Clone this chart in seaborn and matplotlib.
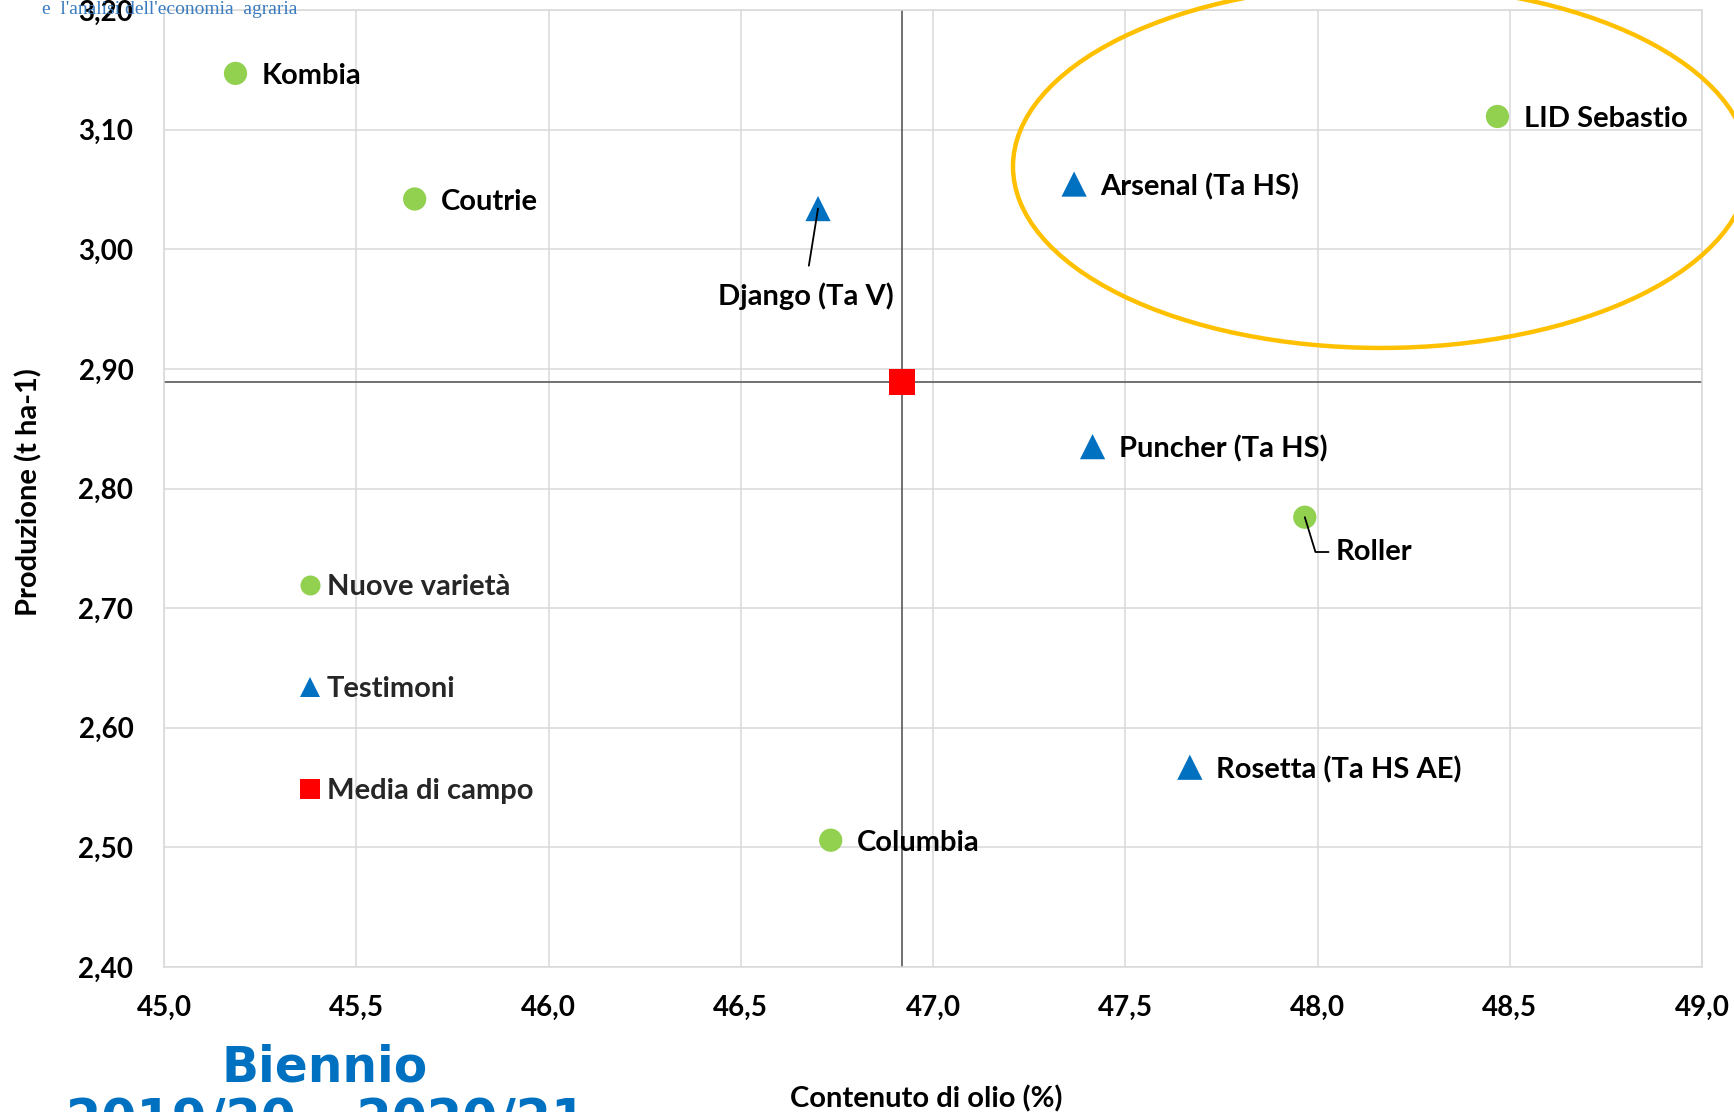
import numpy as np
import pandas as pd
import matplotlib
matplotlib.use("Agg")
import matplotlib.pyplot as plt
import seaborn as sns
from matplotlib.patches import Ellipse
from matplotlib.lines import Line2D
from matplotlib.ticker import FuncFormatter

# ---------------- data ----------------
varieties = ["Kombia", "Coutrie", "Django (Ta V)", "Arsenal (Ta HS)", "LID Sebastio",
             "Puncher (Ta HS)", "Roller", "Rosetta (Ta HS AE)", "Columbia", "Media di campo"]
oil_content = [45.186, 45.652, 46.701, 47.367, 48.468, 47.415, 47.967, 47.668, 46.734, 46.92]
production = [3.147, 3.042, 3.034, 3.0545, 3.111, 2.835, 2.776, 2.567, 2.506, 2.889]
groups = ["Nuove varietà", "Nuove varietà", "Testimoni", "Testimoni", "Nuove varietà",
          "Testimoni", "Nuove varietà", "Testimoni", "Nuove varietà", "Media di campo"]
legend_labels = ["Nuove varietà", "Testimoni", "Media di campo"]

x_ticks = [45.0, 45.5, 46.0, 46.5, 47.0, 47.5, 48.0, 48.5, 49.0]
y_ticks = [2.40, 2.50, 2.60, 2.70, 2.80, 2.90, 3.00, 3.10, 3.20]

GREEN = "#92D050"
BLUE = "#0070C0"
RED = "#FF0000"
palette = {"Nuove varietà": GREEN, "Testimoni": BLUE, "Media di campo": RED}
markers = {"Nuove varietà": "o", "Testimoni": "^", "Media di campo": "s"}
sizes = {"Nuove varietà": 280, "Testimoni": 330, "Media di campo": 340}
legend_msize = {"Nuove varietà": 14.4, "Testimoni": 15.0, "Media di campo": 14.0}

df = pd.DataFrame({"variety": varieties, "oil": oil_content,
                   "prod": production, "group": groups})

# ---------------- figure ----------------
sns.set_theme(style="white")
plt.rcParams["font.family"] = ["Lato", "DejaVu Sans"]
plt.rcParams["font.weight"] = "bold"

W, H = 1734, 1112
fig = plt.figure(figsize=(W / 100, H / 100), dpi=100)
L, R, T, B = 164, 1702, 10, 967
ax = fig.add_axes([L / W, 1 - B / H, (R - L) / W, (B - T) / H])

ax.set_xlim(x_ticks[0], x_ticks[-1])
ax.set_ylim(y_ticks[0], y_ticks[-1])
ax.set_xticks(x_ticks)
ax.set_yticks(y_ticks)
ax.xaxis.set_major_formatter(FuncFormatter(lambda v, p: f"{v:.1f}".replace(".", ",")))
ax.yaxis.set_major_formatter(FuncFormatter(lambda v, p: f"{v:.2f}".replace(".", ",")))
ax.tick_params(axis="both", length=0, labelsize=20, colors="black")
ax.tick_params(axis="y", pad=22)
ax.tick_params(axis="x", pad=20)
for lab in ax.get_xticklabels() + ax.get_yticklabels():
    lab.set_fontweight("bold")

ax.grid(True, color="#D9D9D9", linewidth=1.1, zorder=0)
ax.set_axisbelow(True)
for s in ax.spines.values():
    s.set_color("#D9D9D9")
    s.set_linewidth(1.1)

# mean cross-lines
mean_row = df[df["group"] == "Media di campo"].iloc[0]
ax.axvline(mean_row["oil"], color="#595959", lw=1.2, zorder=2)
ax.axhline(mean_row["prod"], color="#595959", lw=1.2, zorder=2)

sns.scatterplot(data=df, x="oil", y="prod", hue="group", style="group", size="group",
                palette=palette, markers=markers, sizes=sizes, linewidth=0,
                legend=False, ax=ax, zorder=4)

ax.set_xlabel("")
ax.set_ylabel("")

# point labels
lab_fs = 21
simple = ["Kombia", "Coutrie", "Arsenal (Ta HS)", "LID Sebastio",
          "Puncher (Ta HS)", "Rosetta (Ta HS AE)", "Columbia"]
for _, r in df.iterrows():
    if r["variety"] in simple:
        ax.annotate(r["variety"], (r["oil"], r["prod"]), xytext=(19, 0),
                    textcoords="offset points", ha="left", va="center_baseline",
                    fontsize=lab_fs, fontweight="bold", color="black", zorder=5)

# Django with leader line
dj = df[df["variety"] == "Django (Ta V)"].iloc[0]
ax.annotate(dj["variety"], (dj["oil"], dj["prod"]), xytext=(46.670, 2.9626),
            textcoords="data", ha="center", va="center_baseline",
            fontsize=lab_fs, fontweight="bold", color="black",
            arrowprops=dict(arrowstyle="-", color="black", lw=1.3,
                            shrinkA=10, shrinkB=0, relpos=(0.5, 1.0)), zorder=5)

# Roller with elbow leader line
ro = df[df["variety"] == "Roller"].iloc[0]
ax.annotate(ro["variety"], (ro["oil"], ro["prod"]), xytext=(48.048, 2.749),
            textcoords="data", ha="left", va="center_baseline",
            fontsize=lab_fs, fontweight="bold", color="black",
            arrowprops=dict(arrowstyle="-", color="black", lw=1.3,
                            connectionstyle="angle,angleA=0,angleB=-73,rad=0",
                            shrinkA=3, shrinkB=0, relpos=(0.0, 0.5)), zorder=5)

# highlight ellipse
ell = Ellipse((48.165, 3.0692), width=1.914, height=0.3034, fill=False,
              edgecolor="#FFC000", lw=3.2, clip_on=False, zorder=6)
ax.add_patch(ell)

# legend inside the plot
handles = [Line2D([], [], linestyle="", marker=markers[g], color=palette[g],
                  markersize=legend_msize[g], markeredgewidth=0)
           for g in legend_labels]
leg = ax.legend(handles, legend_labels, loc="upper left",
                bbox_to_anchor=(0.0878, 0.4105), frameon=False,
                handlelength=0.75, handletextpad=0.2, labelspacing=2.61,
                borderpad=0, borderaxespad=0,
                prop={"size": lab_fs, "weight": "bold"})

# axis titles
fig.text((L + R) / 2 / W - 0.004, 1 - 1099 / H, "Contenuto di olio (%)", ha="center",
         va="center", fontsize=21, fontweight="bold", color="black")
fig.text(29 / W, 1 - 492 / H, "Produzione (t ha-1)", ha="center", va="center",
         rotation=90, fontsize=21, fontweight="bold", color="black")

# period title (bottom left, partly cut)
fig.text(325 / W, 1 - 1081.5 / H, "Biennio", ha="center", va="baseline",
         fontsize=35, fontweight="bold", color=BLUE, family="DejaVu Sans")
fig.text(326 / W, 1 - 1136.5 / H, "2019/20 – 2020/21", ha="center", va="baseline",
         fontsize=36.5, fontweight="bold", color=BLUE, family="DejaVu Sans")

# logo text fragment at top left
fig.text(42 / W, 1 - 14 / H, "e  l'analisi dell'economia  agraria", ha="left",
         va="baseline", fontsize=14, fontweight="normal", color="#3A7CC0",
         family="Liberation Serif", zorder=0)

fig.savefig("out.png", dpi=100)
